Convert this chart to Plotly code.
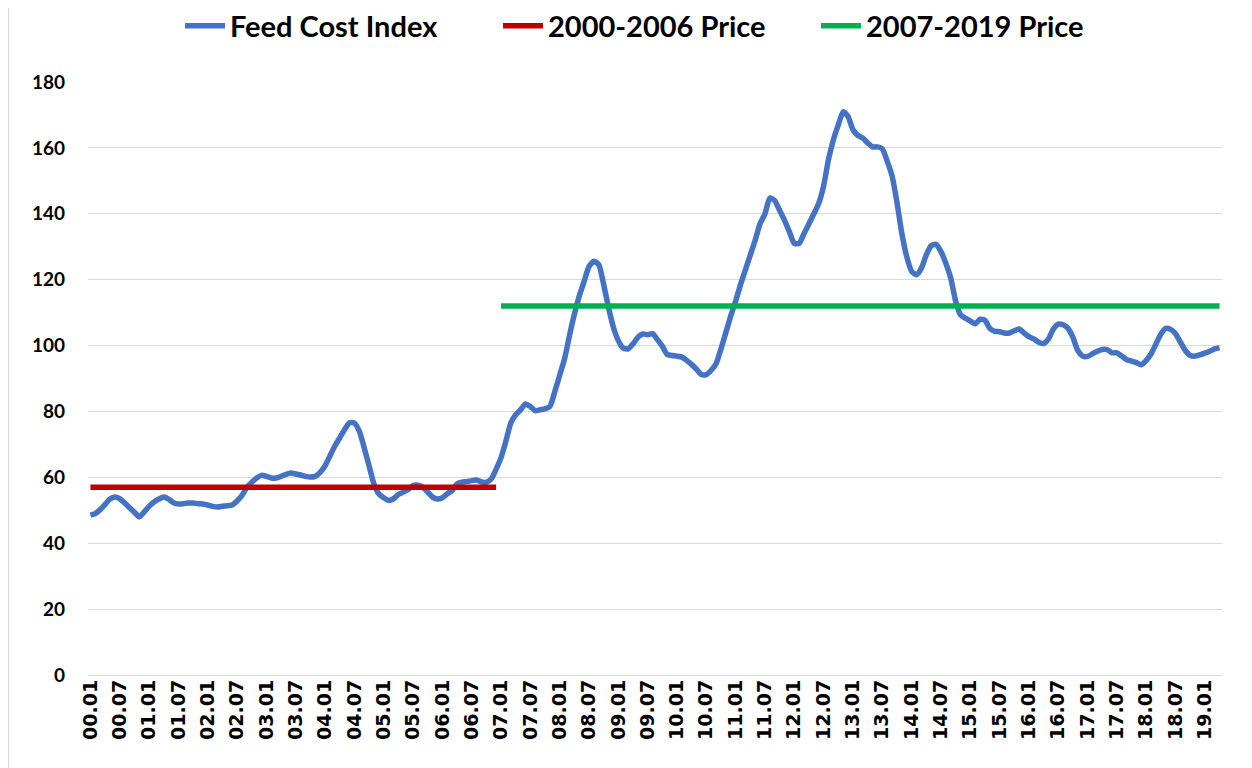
import plotly.graph_objects as go

# ---- data ----
years = list(range(2000, 2020))
last_month_2019 = 4
categories = [f"{y % 100:02d}.{m:02d}" for y in years for m in range(1, 13)
              if not (y == 2019 and m > last_month_2019)]

feed_cost_index = [
    # 2000
    48.5, 49.0, 50.2, 51.8, 53.4, 54.0, 53.5, 52.2, 50.8, 49.4, 48.0, 49.5,
    # 2001
    51.2, 52.5, 53.4, 54.0, 53.4, 52.3, 51.9, 52.0, 52.2, 52.2, 52.0, 51.9,
    # 2002
    51.6, 51.2, 51.0, 51.2, 51.4, 51.6, 52.8, 54.5, 57.0, 58.5, 59.8, 60.6,
    # 2003
    60.3, 59.8, 59.8, 60.3, 60.9, 61.3, 61.0, 60.7, 60.3, 60.1, 60.3, 61.5,
    # 2004
    63.5, 66.5, 69.5, 72.0, 74.5, 76.6, 76.5, 74.0, 69.0, 63.5, 58.0, 55.0,
    # 2005
    53.8, 53.0, 53.5, 54.8, 55.5, 56.3, 57.5, 57.6, 57.0, 55.5, 54.0, 53.4,
    # 2006
    53.8, 55.0, 56.0, 58.0, 58.5, 58.7, 59.0, 59.2, 58.6, 58.5, 59.5, 62.5,
    # 2007
    66.0, 71.0, 76.5, 79.0, 80.5, 82.3, 81.5, 80.2, 80.5, 80.8, 81.5, 86.0,
    # 2008
    91.0, 96.0, 103.0, 109.5, 115.0, 119.5, 124.0, 125.6, 124.5, 118.5, 111.5, 105.5,
    # 2009
    101.5, 99.2, 99.0, 100.5, 102.5, 103.5, 103.3, 103.6, 101.8, 99.8, 97.3, 97.0,
    # 2010
    96.8, 96.5, 95.5, 94.2, 92.8, 91.2, 91.2, 92.5, 94.5, 99.0, 104.0, 109.0,
    # 2011
    113.5, 118.5, 123.0, 127.5, 132.0, 137.0, 140.0, 144.8, 144.0, 141.0, 138.0, 134.5,
    # 2012
    131.0, 131.0, 134.0, 137.0, 140.0, 143.2, 148.5, 156.5, 162.5, 167.0, 171.0, 169.5,
    # 2013
    165.5, 163.8, 163.0, 161.5, 160.3, 160.3, 159.7, 156.0, 151.5, 143.5, 134.0, 127.0,
    # 2014
    122.5, 121.5, 123.5, 127.5, 130.3, 130.7, 128.5, 125.0, 120.5, 113.5, 109.3, 108.3,
    # 2015
    107.5, 106.6, 108.0, 107.7, 105.2, 104.3, 104.2, 103.8, 103.8, 104.5, 105.0, 103.8,
    # 2016
    102.7, 102.0, 101.0, 100.6, 102.0, 105.0, 106.5, 106.3, 105.2, 102.5, 98.5, 96.8,
    # 2017
    96.7, 97.5, 98.3, 98.8, 98.8, 97.8, 97.8, 96.8, 95.7, 95.3, 94.8, 94.2,
    # 2018
    95.5, 97.5, 100.5, 103.5, 105.2, 104.9, 103.6, 101.0, 98.5, 97.0, 96.8, 97.2,
    # 2019
    97.7, 98.3, 99.0, 99.3,
]

price_2000_2006 = 57
price_2007_2019 = 112
period1_end = "06.12"
period2_start = "07.01"

tick_labels = [c for c in categories if c.endswith(".01") or c.endswith(".07")]

# ---- build ----
i_end = categories.index(period1_end)
i_start = categories.index(period2_start)
cat1 = categories[: i_end + 1]
cat2 = categories[i_start:]

fig = go.Figure()
fig.add_trace(go.Scatter(x=categories, y=feed_cost_index, mode="lines",
                         name="Feed Cost Index",
                         line=dict(color="#4472C4", width=5.5, shape="spline", smoothing=0.6)))
fig.add_trace(go.Scatter(x=cat1, y=[price_2000_2006] * len(cat1), mode="lines",
                         name="2000-2006 Price",
                         line=dict(color="#C00000", width=5.5)))
fig.add_trace(go.Scatter(x=cat2, y=[price_2007_2019] * len(cat2), mode="lines",
                         name="2007-2019 Price",
                         line=dict(color="#00B050", width=5.5)))

W, H = 1244, 760
L, T, PW, PH = 80, 74, 1134, 593
fig.update_layout(
    width=W, height=H,
    margin=dict(l=L, r=W - L - PW, t=T, b=H - T - PH),
    paper_bgcolor="white", plot_bgcolor="white",
    showlegend=True,
    legend=dict(orientation="h", x=(180 - 8) / W, xanchor="left", xref="container",
                y=1 - 18 / H, yanchor="middle", yref="container",
                entrywidth=263, entrywidthmode="pixels",
                font=dict(family="Lato", size=29, color="black", weight="bold"),
                itemwidth=40, tracegroupgap=0),
    xaxis=dict(type="category", categoryorder="array", categoryarray=categories,
               tickmode="array", tickvals=tick_labels, ticktext=tick_labels,
               tickangle=-90, showgrid=False, showline=False, ticks="",
               range=[-0.5, len(categories) - 0.5],
               tickfont=dict(family="DejaVu Sans", size=19, color="black", weight="bold")),
    yaxis=dict(range=[0, 180], dtick=20, showgrid=True, gridcolor="#D9D9D9", gridwidth=1,
               zeroline=True, zerolinecolor="#D9D9D9", zerolinewidth=1,
               showline=False, ticks="", ticklabelstandoff=22,
               tickfont=dict(family="Lato", size=19, color="black", weight="bold")),
)

fig.add_shape(type="line", xref="paper", yref="paper",
              x0=-L / PW, x1=-L / PW, y0=-(H - T - PH) / PH, y1=1 + T / PH,
              line=dict(color="#D9D9D9", width=2))

fig.write_html("out.html")
